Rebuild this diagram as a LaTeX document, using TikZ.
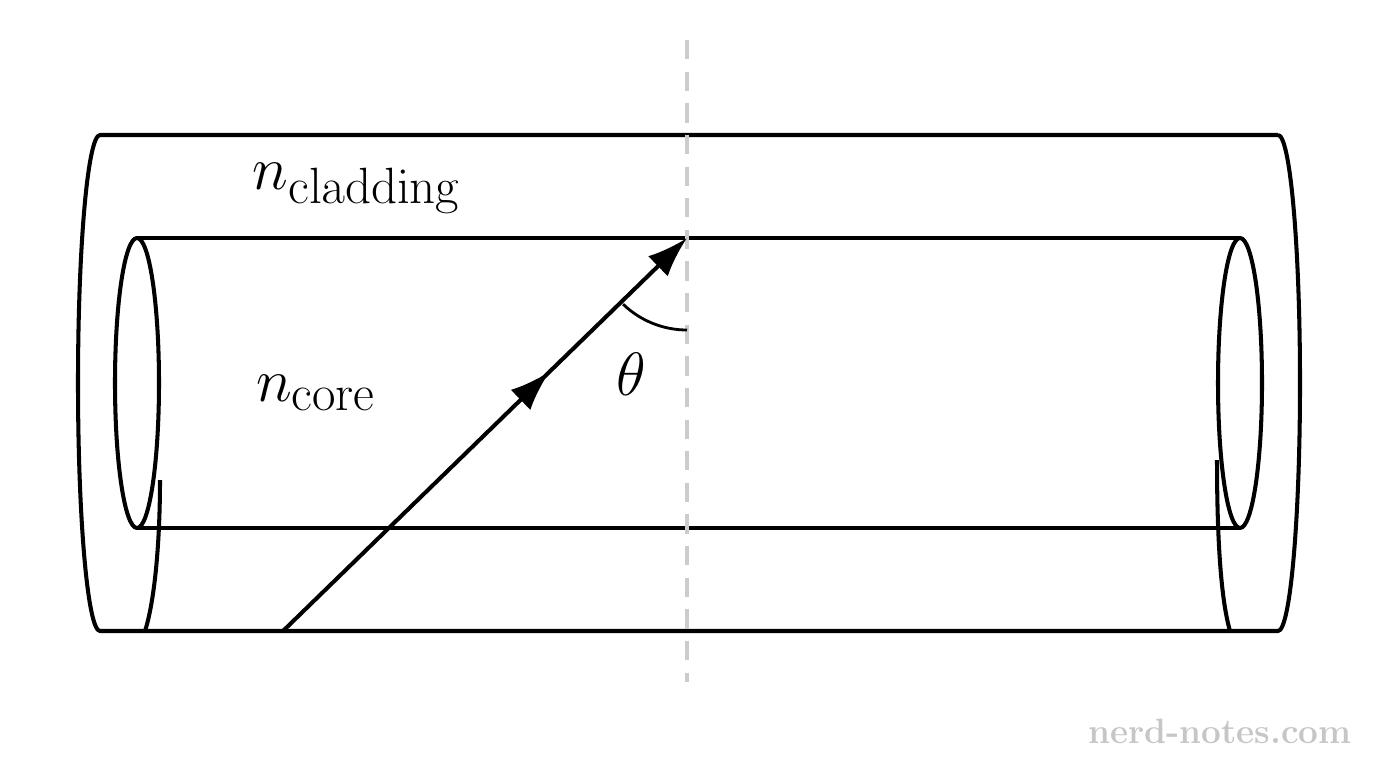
\documentclass[tikz,border=0pt]{standalone}
\usetikzlibrary{arrows.meta,decorations.markings}
\begin{document}
\begin{tikzpicture}[x=0.02cm,y=-0.02cm,
  ln/.style={line width=2.3pt,line join=round},
  lbl/.style={font=\fontsize{24.88}{30}\selectfont,scale=1.4,transform shape}]
\useasboundingbox (0,0) rectangle (1376,768);
% outer cylinder
\draw[ln] (1278,135) -- (100,135) arc[start angle=270,end angle=90,x radius=22,y radius=248] -- (1278,631)
  arc[start angle=90,end angle=-90,x radius=22,y radius=248];
\draw[ln] (145,631) .. controls (155,600) and (160,540) .. (160,480);
\draw[ln] (1230,631) .. controls (1221,600) and (1217,540) .. (1217,460);
% core
\draw[ln] (137,383) ellipse[x radius=22,y radius=145];
\draw[ln] (1240,383) ellipse[x radius=22,y radius=145];
\draw[ln] (137,238) -- (1240,238);
\draw[ln] (137,528) -- (1240,528);
% dashed normal
\coordinate (nt) at (687,40);
\coordinate (nb) at (687,682);
\draw[line width=2pt,gray!40,dash pattern=on 11pt off 7pt] (nt) -- (nb);
% ray
\coordinate (s) at (283,631);
\coordinate (p) at (687,238);
\draw[ln,decoration={markings,mark=at position 0.66 with {\arrow{Latex[length=23pt,width=16pt]}}},postaction=decorate,
  -{Latex[length=23pt,width=16pt]}] (s) -- (p);
\draw[line width=1.6pt] (687,330) arc[start angle=90,end angle=134,radius=92];
\node[lbl] (th) at (631,374) {$\theta$};
\node[lbl] (nc) at (357,188) {$n_{\mathrm{cladding}}$};
\node[lbl] (nr) at (316,393) {$n_{\mathrm{core}}$};
\node[font=\fontsize{20}{24}\selectfont\bfseries,text=gray!45] (wm) at (1220,731) {nerd-notes.com};
\end{tikzpicture}
\end{document}
